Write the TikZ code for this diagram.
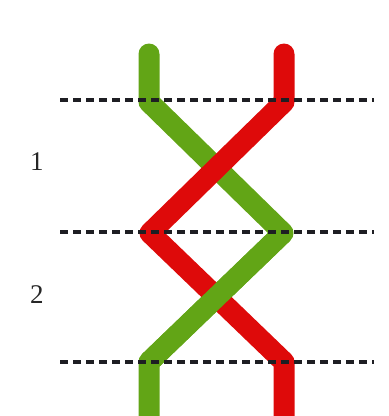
\documentclass[tikz,border=0pt]{standalone}
\usepackage{fontspec}
\setmainfont{Liberation Serif}
\definecolor{strandgreen}{RGB}{98,165,22}
\definecolor{strandred}{RGB}{222,10,10}
\definecolor{dashgray}{RGB}{30,30,35}
\begin{document}
\begin{tikzpicture}[x=1pt,y=-1pt,
  strand/.style={line width=21pt,line cap=round,line join=round},
  levelline/.style={line width=3.2pt,dash pattern=on 8pt off 5pt,color=dashgray},
  lbl/.style={font=\fontsize{27}{27}\selectfont,text=black!85,inner sep=0pt}]
\useasboundingbox (0,0) rectangle (389,416);
% coordinates
\coordinate (gt) at (149,54);
\coordinate (g1) at (149,102);
\coordinate (g2) at (283,233);
\coordinate (g3) at (149,362);
\coordinate (gb) at (149,430);
\coordinate (rt) at (284,54);
\coordinate (r1) at (284,102);
\coordinate (r2) at (150,233);
\coordinate (r3) at (284,362);
\coordinate (rb) at (284,430);
% strands
\draw[strand,strandgreen] (gt) -- (g1) -- (g2) -- (g3) -- (gb);
\draw[strand,strandred] (rt) -- (r1) -- (r2) -- (r3) -- (rb);
\draw[strand,strandgreen,line cap=butt] (g2) -- (g3);
% level lines
\coordinate (d1a) at (60,100); \coordinate (d1b) at (374,100);
\coordinate (d2a) at (60,232); \coordinate (d2b) at (374,232);
\coordinate (d3a) at (60,362); \coordinate (d3b) at (374,362);
\draw[levelline] (d1a) -- (d1b);
\draw[levelline] (d2a) -- (d2b);
\draw[levelline] (d3a) -- (d3b);
% labels
\node[lbl] (l1) at (37,162) {1};
\node[lbl] (l2) at (37,295) {2};
\end{tikzpicture}
\end{document}
